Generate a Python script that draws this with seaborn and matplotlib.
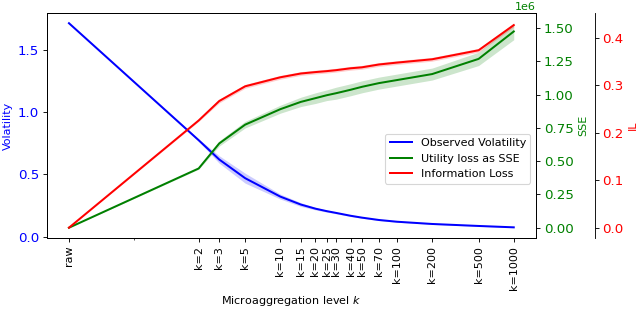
import numpy as np
import seaborn as sns
import matplotlib
matplotlib.use('Agg')
import matplotlib.pyplot as plt

# x positions (raw = 0), symlog axis
k_values = [0, 2, 3, 5, 10, 15, 20, 25, 30, 40, 50, 70, 100, 200, 500, 1000]
k_labels = ["raw", "k=2", "k=3", "k=5", "k=10", "k=15", "k=20", "k=25", "k=30",
            "k=40", "k=50", "k=70", "k=100", "k=200", "k=500", "k=1000"]

volatility = [1.715, 0.775, 0.62, 0.47, 0.322, 0.258, 0.225, 0.205, 0.191, 0.168,
              0.153, 0.134, 0.12, 0.102, 0.086, 0.075]
volatility_err = [0.0, 0.01, 0.03, 0.04, 0.02, 0.015, 0.01, 0.008, 0.007, 0.006,
                  0.005, 0.005, 0.004, 0.004, 0.003, 0.003]

sse = [0.0, 0.445, 0.633, 0.774, 0.89, 0.945, 0.973, 0.995, 1.01, 1.036,
       1.058, 1.086, 1.109, 1.154, 1.268, 1.474]  # x 1e6
sse_err = [0.0, 0.006, 0.02, 0.025, 0.03, 0.035, 0.04, 0.04, 0.045, 0.045,
           0.045, 0.045, 0.045, 0.045, 0.05, 0.062]

info_loss = [0.0, 0.226, 0.267, 0.298, 0.317, 0.325, 0.328, 0.330, 0.332, 0.336,
             0.338, 0.344, 0.348, 0.355, 0.374, 0.427]
info_loss_err = [0.0, 0.002, 0.004, 0.004, 0.004, 0.004, 0.004, 0.004, 0.004, 0.004,
                 0.004, 0.004, 0.004, 0.004, 0.004, 0.004]

x = np.array(k_values, dtype=float)
vol = np.array(volatility)
vol_e = np.array(volatility_err)
s = np.array(sse) * 1e6
s_e = np.array(sse_err) * 1e6
il = np.array(info_loss)
il_e = np.array(info_loss_err)

fig, ax = plt.subplots(figsize=(8, 3.8625), dpi=80)
fig.subplots_adjust(left=0.073, right=0.8375, top=0.958, bottom=0.23)

ax2 = ax.twinx()
ax3 = ax.twinx()
ax3.spines['right'].set_position(('axes', 1.12))

lw = 1.8
sns.lineplot(x=x, y=vol, color='blue', ax=ax, label='Observed Volatility', legend=False, lw=lw)
ax.fill_between(x, vol - vol_e, vol + vol_e, color='blue', alpha=0.2, linewidth=0)

sns.lineplot(x=x, y=s, color='green', ax=ax2, label='Utility loss as SSE', legend=False, lw=lw)
ax2.fill_between(x, s - s_e, s + s_e, color='green', alpha=0.2, linewidth=0)

sns.lineplot(x=x, y=il, color='red', ax=ax3, label='Information Loss', legend=False, lw=lw)
ax3.fill_between(x, il - il_e, il + il_e, color='red', alpha=0.2, linewidth=0)

ax.set_xscale('symlog', linthresh=2)
ax.set_xticks(k_values)
ax.set_xticklabels(k_labels, rotation=90, fontsize=10)
ax.set_xticks([1], minor=True)
ax.set_xlabel('Microaggregation level $k$')

ax.set_ylabel('Volatility', color='blue')
ax.set_yticks([0.0, 0.5, 1.0, 1.5])
ax.tick_params(axis='y', labelcolor='blue', labelsize=12)
ax2.set_ylabel('SSE', color='green')
ax2.set_yticks([0, 0.25e6, 0.5e6, 0.75e6, 1.0e6, 1.25e6, 1.5e6])
ax2.tick_params(axis='y', labelcolor='green', labelsize=12)
ax2.yaxis.get_offset_text().set_color('green')
ax2.yaxis.get_offset_text().set_fontsize(10)
ax3.set_ylabel('IL', color='red')
ax3.set_yticks([0.0, 0.1, 0.2, 0.3, 0.4])
ax3.tick_params(axis='y', labelcolor='red', labelsize=12)

for a in (ax, ax2, ax3):
    if a.get_legend() is not None:
        a.get_legend().remove()

handles = []
labels = []
for a in (ax, ax2, ax3):
    h, l = a.get_legend_handles_labels()
    handles += h
    labels += l
ax3.legend(handles, labels, loc='center right', bbox_to_anchor=(1.0, 0.353))

plt.savefig('out.png', dpi=80)
